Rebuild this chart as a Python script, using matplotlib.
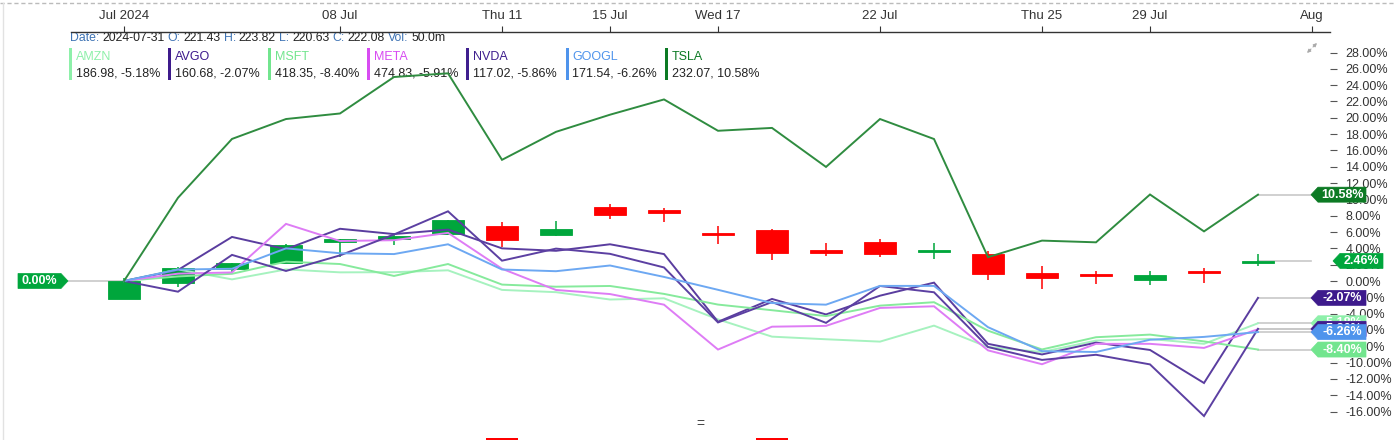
import matplotlib
matplotlib.use("Agg")
import matplotlib.pyplot as plt
from matplotlib.patches import Polygon, Rectangle
from matplotlib.transforms import IdentityTransform, blended_transform_factory
import numpy as np

plt.rcParams['font.family'] = ['Liberation Sans', 'DejaVu Sans']

# --- data -------------------------------------------------------------
tick_pos = [0, 4, 7, 9, 11, 14, 17, 19, 22]
tick_labels = ["Jul 2024", "08 Jul", "Thu 11", "15 Jul", "Wed 17", "22 Jul", "Thu 25", "29 Jul", "Aug"]

# main symbol candles (prices), Jul 1 .. Jul 31 2024
aapl_open  = [212.09, 216.15, 220.00, 221.65, 227.09, 227.93, 229.30, 231.39, 228.92, 236.48, 235.00,
              229.45, 230.28, 224.82, 227.01, 224.37, 224.00, 218.93, 218.70, 216.96, 219.19, 221.43]
aapl_high  = [217.51, 220.38, 221.55, 226.45, 227.85, 229.40, 233.08, 232.39, 232.64, 237.23, 236.27,
              231.46, 230.44, 226.80, 227.78, 226.94, 224.80, 220.85, 219.49, 219.30, 220.33, 223.82]
aapl_low   = [211.92, 215.10, 219.03, 221.65, 223.25, 226.37, 229.25, 225.77, 228.68, 233.09, 232.33,
              226.64, 222.27, 223.28, 223.09, 222.68, 217.13, 214.62, 216.01, 215.75, 216.12, 220.63]
aapl_close = [216.75, 220.27, 221.55, 226.34, 227.82, 228.68, 232.98, 227.57, 230.54, 234.40, 234.82,
              228.88, 224.18, 224.31, 223.96, 225.01, 218.54, 217.49, 217.96, 218.24, 218.80, 222.08]
aapl_vol   = [60.4, 58.0, 37.4, 60.4, 48.1, 48.1, 62.0, 64.7, 53.0, 62.6, 43.2,
              57.3, 66.0, 49.2, 48.2, 39.9, 61.8, 51.4, 41.6, 36.3, 41.6, 50.0]

# comparison symbols, % change since Jul 1
amzn  = [0, 1.42, 0.20, 1.42, 1.06, 1.08, 1.31, -1.09, -1.37, -2.27, -2.12,
         -4.70, -6.82, -7.14, -7.43, -5.47, -8.10, -8.70, -7.30, -7.10, -7.70, -5.18]
avgo  = [0, 1.35, 5.40, 3.90, 6.40, 5.75, 6.30, 4.00, 3.70, 4.50, 3.30,
         -5.00, -2.20, -4.10, -1.80, -0.20, -7.70, -9.00, -7.55, -8.45, -12.50, -2.07]
msft  = [0, 0.56, 0.88, 2.37, 2.08, 0.62, 2.08, -0.44, -0.70, -0.61, -1.58,
         -2.89, -3.58, -4.30, -3.02, -2.60, -6.09, -8.39, -6.89, -6.57, -7.40, -8.40]
meta  = [0, 0.90, 1.05, 7.00, 4.90, 5.00, 5.90, 1.50, -1.10, -1.60, -2.90,
         -8.40, -5.60, -5.50, -3.30, -3.10, -8.50, -10.20, -7.70, -7.70, -8.20, -5.91]
nvda  = [0, -1.31, 3.20, 1.23, 3.14, 5.70, 8.54, 2.49, 3.97, 3.33, 1.66,
         -5.08, -2.58, -5.13, -0.61, -1.38, -8.09, -9.67, -9.04, -10.22, -16.55, -5.86]
googl = [0, 1.40, 1.50, 4.00, 3.40, 3.30, 4.50, 1.41, 1.20, 1.90, 0.50,
         -1.08, -2.70, -2.90, -0.60, -0.60, -5.66, -8.60, -8.70, -7.20, -6.85, -6.26]
tsla  = [0, 10.20, 17.41, 19.85, 20.53, 25.00, 25.45, 14.85, 18.28, 20.38, 22.25,
         18.41, 18.76, 13.98, 19.85, 17.40, 2.92, 4.95, 4.74, 10.60, 6.08, 10.58]

symbols = ["AMZN", "AVGO", "MSFT", "META", "NVDA", "GOOGL", "TSLA"]
last_price = ["186.98", "160.68", "418.35", "474.83", "117.02", "171.54", "232.07"]
last_pct = ["-5.18%", "-2.07%", "-8.40%", "-5.91%", "-5.86%", "-6.26%", "10.58%"]
sym_colors = ["#8ef0aa", "#3d1a8c", "#72e58e", "#d84cf2", "#3f1f8e", "#4f94ec", "#0c7a24"]
line_colors = ["#a6f2bf", "#5a3d9f", "#86ea9c", "#de7cf5", "#5c40a2", "#6da8f2", "#2f8c40"]
series = [amzn, avgo, msft, meta, nvda, googl, tsla]

ytick_vals = list(range(-16, 30, 2))

# --- figure ------------------------------------------------------------
W, H = 1395, 440
fig = plt.figure(figsize=(W / 100, H / 100), dpi=100)
fig.patch.set_facecolor("white")

px_per_day = 54.0
x0_px = 124.0
zero_px = 281.0
px_per_pct = 8.16
left_px, right_px, top_px, bot_px = 71, 1330, 32, 432

ax = fig.add_axes([left_px / W, (H - bot_px) / H, (right_px - left_px) / W, (bot_px - top_px) / H])
ax.set_xlim((left_px - x0_px) / px_per_day, (right_px - x0_px) / px_per_day)
ax.set_ylim((zero_px - bot_px) / px_per_pct, (zero_px - top_px) / px_per_pct)
ax.set_facecolor("none")
for s in ["left", "right", "bottom"]:
    ax.spines[s].set_visible(False)
ax.spines["top"].set_color("#333333")
ax.spines["top"].set_linewidth(1.0)

ax.xaxis.tick_top()
ax.set_xticks(tick_pos)
ax.set_xticklabels(tick_labels)
ax.tick_params(axis="x", direction="out", length=4, pad=3, labelsize=9.5, colors="#333333")
ax.yaxis.tick_right()
ax.set_yticks(ytick_vals)
ax.set_yticklabels([f"{v:.2f}%" for v in ytick_vals])
ax.tick_params(axis="y", direction="out", length=5, pad=6, labelsize=9, color="#555555", labelcolor="#333333")

days = np.arange(len(aapl_close))
base = aapl_close[0]
o = (np.array(aapl_open) / base - 1) * 100
h = (np.array(aapl_high) / base - 1) * 100
l = (np.array(aapl_low) / base - 1) * 100
c = (np.array(aapl_close) / base - 1) * 100

green = "#00a63c"
red = "#ff0000"
bw = 0.61
for i in days:
    col = green if c[i] >= o[i] else red
    ax.vlines(i, l[i], h[i], color=col, lw=1.3, zorder=2, alpha=0.85)
    lo = min(o[i], c[i])
    ht = max(abs(c[i] - o[i]), 0.32)
    ax.add_patch(Rectangle((i - bw / 2, lo), bw, ht, facecolor=col, edgecolor=col, lw=0.6, zorder=2))

# comparison lines
for vals, col in zip(series, line_colors):
    ax.plot(days, vals, color=col, lw=1.4, zorder=3, solid_joinstyle="miter")

# connectors to the value tags
tip_right = (1311 - x0_px) / px_per_day
for vals in series + [list(c)]:
    ax.plot([days[-1], tip_right], [vals[-1], vals[-1]], color="#c8c8c8", lw=1.2, zorder=1, clip_on=False)
ax.plot([(68 - x0_px) / px_per_day, 0], [0, 0], color="#c8c8c8", lw=1.2, zorder=1, clip_on=False)

# value tags
ptrans = blended_transform_factory(IdentityTransform(), ax.transData)
half = 7.5 / px_per_pct


def tag(tip_x, y, text, col, z, width=55, point_left=True):
    if point_left:
        verts = [(tip_x, y), (tip_x + 7, y + half), (tip_x + width, y + half),
                 (tip_x + width, y - half), (tip_x + 7, y - half)]
        cx = tip_x + 7 + (width - 7) / 2
    else:
        verts = [(tip_x, y), (tip_x - 7, y + half), (tip_x - width, y + half),
                 (tip_x - width, y - half), (tip_x - 7, y - half)]
        cx = tip_x - 7 - (width - 7) / 2
    ax.add_patch(Polygon(verts, closed=True, transform=ptrans, facecolor=col,
                         edgecolor=col, lw=0.5, zorder=z, clip_on=False))
    ax.text(cx, y, text, transform=ptrans, color="white", fontsize=9, fontweight="bold",
            ha="center", va="center", zorder=z + 0.5, clip_on=False)


tag_order = [0, 3, 4, 5, 2, 1, 6]
for n, k in enumerate(tag_order):
    tag(1311, series[k][-1], last_pct[k], sym_colors[k], 6 + n)
tag(1333, c[-1], f"{c[-1]:.2f}%", green, 14, width=50)
tag(68, 0, "0.00%", green, 14, width=50, point_left=False)

# header texts (under the lines)
renderer = fig.canvas.get_renderer()


def run_text(x_px, y_px, pieces, size):
    x = x_px
    for s, col, gap in pieces:
        t = ax.text(x, H - y_px, s, transform=IdentityTransform(), color=col, fontsize=size,
                    ha="left", va="center", zorder=1, clip_on=False)
        x += t.get_window_extent(renderer).width + gap


lab = "#3f74b5"
dark = "#222222"
run_text(70, 38, [("Date:", lab, 3), ("2024-07-31", dark, 3), ("O:", lab, 3), ("221.43", dark, 3),
                  ("H:", lab, 3), ("223.82", dark, 3), ("L:", lab, 3), ("220.63", dark, 3),
                  ("C:", lab, 3), ("222.08", dark, 3), ("Vol:", lab, 3), ("50.0m", dark, 0)], 8.8)

for k, sym in enumerate(symbols):
    bx = 69 + k * 99.3
    ax.add_patch(Rectangle((bx, H - 80), 3, 32, transform=IdentityTransform(), facecolor=sym_colors[k],
                           edgecolor="none", zorder=1, clip_on=False))
    ax.text(bx + 7, H - 57, sym, transform=IdentityTransform(), color=sym_colors[k], fontsize=9,
            ha="left", va="center", zorder=1, clip_on=False)
    ax.text(bx + 7, H - 73, f"{last_price[k]}, {last_pct[k]}", transform=IdentityTransform(), color=dark,
            fontsize=9, ha="left", va="center", zorder=1, clip_on=False)

# volume pane, only its top edge is inside the picture
axv = fig.add_axes([left_px / W, (H - 438 - 160) / H, (right_px - left_px) / W, 160 / H])
axv.set_xlim(ax.get_xlim())
axv.set_ylim(0, 64)
axv.axis("off")
vcols = [green if c[i] >= o[i] else red for i in days]
axv.bar(days, aapl_vol, width=bw, color=vcols)

# frame bits
fig.add_artist(plt.Line2D([0, 1], [1 - 3 / H, 1 - 3 / H], color="#bbbbbb", lw=1, ls=(0, (3, 2))))
fig.add_artist(plt.Line2D([3 / W, 3 / W], [0, 1 - 3 / H], color="#e2e2e2", lw=1))
fig.text(700 / W, 1 - 424 / H, "=", ha="center", va="center", fontsize=10, color="#444444")

# expand icon (two small diagonal arrows)
for (x1, y1), (x2, y2) in [((1313, 47), (1317, 43)), ((1311, 49), (1307, 53))]:
    ax.annotate("", xy=(x2, H - y2), xytext=(x1, H - y1), xycoords=IdentityTransform(),
                textcoords=IdentityTransform(), annotation_clip=False,
                arrowprops=dict(arrowstyle="-|>", color="#aaaaaa", lw=0.8, mutation_scale=5,
                                shrinkA=0, shrinkB=0))

fig.savefig("out.png", dpi=100)
